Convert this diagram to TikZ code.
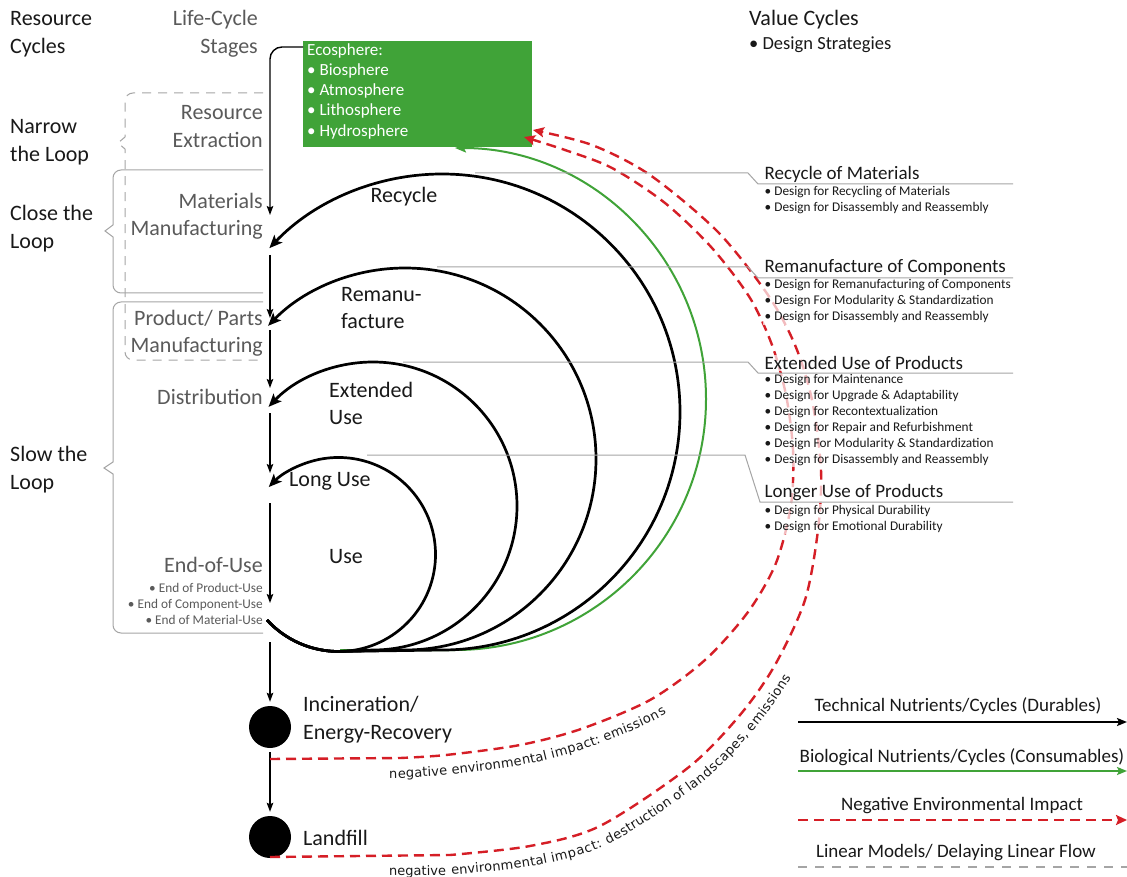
\documentclass[tikz,border=0pt]{standalone}
\usepackage{fontspec}
\setmainfont{Carlito}
\newfontfamily\pathfont{DejaVu Sans}
\usetikzlibrary{arrows.meta,decorations.text}

\definecolor{ecogreen}{RGB}{64,163,56}
\definecolor{impactred}{RGB}{213,30,38}
\definecolor{stagegray}{RGB}{90,90,90}
\definecolor{rulegray}{RGB}{165,165,165}
\definecolor{ink}{RGB}{25,25,25}

\begin{document}
\begin{tikzpicture}[x=1pt,y=-1pt,
  every node/.style={inner sep=0pt, text=ink},
  big/.style={font=\fontsize{22}{27.5}\selectfont},
  head/.style={font=\fontsize{19}{22}\selectfont},
  smallfs/.style={font=\fontsize{13.3}{16}\selectfont},
  legendfs/.style={font=\fontsize{19}{22}\selectfont},
  leftlabel/.style={big, anchor=west, align=left},
  stage/.style={big, anchor=east, align=right, text=stagegray},
  arclabel/.style={big, anchor=west, align=left},
  block/.style={anchor=west, align=left, fill=white, fill opacity=0.7, text opacity=1, inner sep=1.5pt},
  flow/.style={line width=1.4pt, -{Stealth[length=9pt,width=6.5pt,inset=1.5pt]}},
  loop/.style={line width=2.7pt, -{Stealth[length=13pt,width=11pt,inset=3pt]}},
  bio/.style={line width=2pt, draw=ecogreen, -{Stealth[length=11pt,width=9pt,inset=2pt]}},
  impact/.style={line width=2.4pt, draw=impactred, dash pattern=on 10pt off 6pt, -{Stealth[length=11pt,width=10pt,inset=2pt]}},
  linear/.style={line width=1.2pt, draw=rulegray, dash pattern=on 9pt off 8pt},
  brace/.style={line width=1pt, draw=rulegray},
  leader/.style={line width=1pt, draw=rulegray},
  keyarrow/.style={line width=2.2pt, -{Stealth[length=10pt,width=8pt,inset=2pt]}},
]
\useasboundingbox (0,0) rectangle (1127,877);
\fill[white] (0,0) rectangle (1127,877);

% ---------- brackets grouping the life-cycle stages ----------
\draw[brace, dash pattern=on 9pt off 7pt]
  (263,93) -- (133,93) arc[start angle=90, end angle=180, radius=8pt]
  -- (125,137) -- (118,143) -- (125,149)
  -- (125,352) arc[start angle=180, end angle=270, radius=8pt] -- (263,360);
\draw[brace]
  (263,170) -- (121,170) arc[start angle=90, end angle=180, radius=8pt]
  -- (113,225) -- (105,231) -- (113,237)
  -- (113,285) arc[start angle=180, end angle=270, radius=8pt] -- (263,293);
\draw[brace]
  (263,302) -- (121,302) arc[start angle=90, end angle=180, radius=8pt]
  -- (113,462) -- (104,468) -- (113,474)
  -- (113,625) arc[start angle=180, end angle=270, radius=8pt] -- (263,633);

% ---------- left column ----------
\node[leftlabel] (rescyc) at (10,34) {Resource\\Cycles};
\node[leftlabel] (narrow) at (10,142) {Narrow\\the Loop};
\node[leftlabel] (close) at (10,228.5) {Close the\\Loop};
\node[leftlabel] (slow) at (10,469.5) {Slow the\\Loop};

\node[stage] (lcs) at (258,34) {Life-Cycle\\Stages};
\node[stage] (extr) at (263,126.5) {Resource\\Extraction};
\node[stage] (matm) at (263,216.5) {Materials\\Manufacturing};
\node[stage] (prodm) at (263,333.5) {Product/ Parts\\Manufacturing};
\node[stage] (dist) at (263,397) {Distribution};
\node[stage] (eou) at (263,565) {End-of-Use};
\node[stage, smallfs] (eoulist) at (263,604) {• End of Product-Use\\• End of Component-Use\\• End of Material-Use};

% ---------- ecosphere ----------
\node[fill=ecogreen, minimum width=229pt, minimum height=106pt, anchor=north west] (eco) at (303,41) {};
\node[font=\fontsize{17}{20.3}\selectfont, text=white, anchor=north west, align=left] (ecotxt) at (307,43)
  {Ecosphere:\\• Biosphere\\• Atmosphere\\• Lithosphere\\• Hydrosphere};

% ---------- end-of-life nodes ----------
\node[circle, fill=black, minimum size=42pt] (inc) at (270,727) {};
\node[circle, fill=black, minimum size=42pt] (land) at (270,837) {};
\node[big, anchor=west, align=left] (inctxt) at (303,719.5) {Incineration/\\Energy-Recovery};
\node[big, anchor=west] (landtxt) at (303,838) {Landfill};

% ---------- linear flow down the stages ----------
\coordinate (ecoOut) at (303,47);
\coordinate (bend) at (270,47);
\coordinate (sMat) at (270,215);
\coordinate (sMatOut) at (270,255);
\coordinate (sProd) at (270,318);
\coordinate (sProdOut) at (270,330);
\coordinate (sDist) at (270,388);
\coordinate (sDistOut) at (270,413);
\coordinate (sUse) at (270,473);
\coordinate (sUseOut) at (270,503);
\coordinate (sEnd) at (270,603);
\coordinate (sEndOut) at (270,642);
\draw[flow, rounded corners=12pt] (ecoOut) -- (bend) -- (sMat);
\draw[flow] (sMatOut) -- (sProd);
\draw[flow] (sProdOut) -- (sDist);
\draw[flow] (sDistOut) -- (sUse);
\draw[flow] (sUseOut) -- (sEnd);
\draw[flow, shorten >=4pt] (sEndOut) -- (inc);
\draw[flow, shorten <=4pt, shorten >=4pt] (inc) -- (land);

% ---------- value cycles ----------
\coordinate (eouOut) at (267,620);
\draw[bio] (340,650) -- (455,650) arc[start angle=-90, end angle=90, radius=251pt];
\draw[loop] (eouOut) arc[start angle=-137.5, end angle=-90, radius=97pt]
  -- (442,650) arc[start angle=-90, end angle=136.5, radius=238pt];
\draw[loop] (eouOut) arc[start angle=-137.5, end angle=-90, radius=97pt]
  -- (405,650) arc[start angle=-90, end angle=135.8, radius=191pt];
\draw[loop] (eouOut) arc[start angle=-137.5, end angle=-90, radius=97pt]
  -- (373,650) arc[start angle=-90, end angle=136.5, radius=144pt];
\draw[loop] (eouOut) arc[start angle=-137.5, end angle=136, radius=97pt];

\node[big] (lrec) at (404,197) {Recycle};
\node[arclabel] (lrem) at (341,308) {Remanu-\\facture};
\node[arclabel] (lext) at (329,403.5) {Extended\\Use};
\node[arclabel] (llong) at (289,481) {Long Use};
\node[arclabel] (luse) at (329,557) {Use};

% ---------- negative impacts back to the ecosphere ----------
\coordinate (incOut) at (270,759);
\coordinate (landOut) at (270,857);
\coordinate (ecoIn1) at (524,137);
\coordinate (ecoIn2) at (533,130);
\draw[impact] (incOut) -- (400,758) -- plot[smooth] coordinates {(400,758) (446,755) (520,745) (581,729) (650,700) (705,660) (748,612) (776,563) (791,505) (793,450) (786,395) (772,345) (750,298) (712,248) (665,203) (612,168) (565,150) (ecoIn1)};
\draw[impact] (landOut) -- (450,855) -- plot[smooth] coordinates {(450,855) (530,846) (600,826) (689,767) (740,715) (775,665) (805,600) (818,530) (821,470) (812,400) (795,345) (768,295) (718,232) (650,175) (592,145) (ecoIn2)};

\path[decorate, decoration={text along path, text color=ink,
    text={|\pathfont\fontsize{13}{15}\selectfont|negative environmental impact: emissions},
    raise=-20pt, text align={left indent=119pt}}]
  (incOut) -- (400,758) -- plot[smooth] coordinates {(400,758) (446,755) (520,745) (581,729) (650,700) (705,660) (748,612) (776,563) (791,505) (793,450) (786,395) (772,345) (750,298) (712,248) (665,203) (612,168) (565,150) (ecoIn1)};
\path[decorate, decoration={text along path, text color=ink,
    text={|\pathfont\fontsize{13}{15}\selectfont|negative environmental impact: destruction of landscapes, emissions},
    raise=-20pt, text align={left indent=119pt}}]
  (landOut) -- (450,855) -- plot[smooth] coordinates {(450,855) (530,846) (600,826) (689,767) (740,715) (775,665) (805,600) (818,530) (821,470) (812,400) (795,345) (768,295) (718,232) (650,175) (592,145) (ecoIn2)};

% ---------- design strategies ----------
\node[big, anchor=west] (vc) at (749,20) {Value Cycles};
\node[font=\fontsize{18.5}{20}\selectfont, anchor=west] (vcs) at (749,45) {• Design Strategies};

\node[head, block] (hrec) at (763,174) {Recycle of Materials};
\node[smallfs, block] (brec) at (763,200) {• Design for Recycling of Materials\\• Design for Disassembly and Reassembly};
\node[head, block] (hrem) at (763,268) {Remanufacture of Components};
\node[smallfs, block] (brem) at (763,301.5) {• Design for Remanufacturing of Components\\• Design For Modularity \& Standardization\\• Design for Disassembly and Reassembly};
\node[head, block] (hext) at (763,363) {Extended Use of Products};
\node[smallfs, block] (bext) at (763,420) {• Design for Maintenance\\• Design for Upgrade \& Adaptability\\• Design for Recontextualization\\• Design for Repair and Refurbishment\\• Design For Modularity \& Standardization\\• Design for Disassembly and Reassembly};
\node[head, block] (hlong) at (763,493) {Longer Use of Products};
\node[smallfs, block] (blong) at (763,519) {• Design for Physical Durability\\• Design for Emotional Durability};

% leaders from each loop to its strategy list
\coordinate (recTop) at (475,173);
\coordinate (remTop) at (437,267);
\coordinate (extTop) at (403,362);
\coordinate (longTop) at (367,455);
\draw[leader] (recTop) -- (748,173) -- (758,184) -- (1013,184);
\draw[leader] (remTop) -- (748,267) -- (758,278) -- (1013,278);
\draw[leader] (extTop) -- (748,362) -- (758,373) -- (1013,373);
\draw[leader] (longTop) -- (745,455) -- (760,502) -- (1013,502);

% ---------- legend ----------
\node[legendfs] (lgtech) at (958,706) {Technical Nutrients/Cycles (Durables)};
\node[legendfs] (lgbio) at (962,757) {Biological Nutrients/Cycles (Consumables)};
\node[legendfs] (lgneg) at (962,806) {Negative Environmental Impact};
\node[legendfs] (lglin) at (956,853) {Linear Models/ Delaying Linear Flow};
\coordinate (k1a) at (798,722); \coordinate (k1b) at (1127,722);
\coordinate (k2a) at (798,771); \coordinate (k2b) at (1127,771);
\coordinate (k3a) at (798,820); \coordinate (k3b) at (1127,820);
\coordinate (k4a) at (798,867); \coordinate (k4b) at (1127,867);
\draw[keyarrow] (k1a) -- (k1b);
\draw[keyarrow, draw=ecogreen, fill=ecogreen] (k2a) -- (k2b);
\draw[impact, line width=2.2pt] (k3a) -- (k3b);
\draw[linear] (k4a) -- (k4b);
\end{tikzpicture}
\end{document}
